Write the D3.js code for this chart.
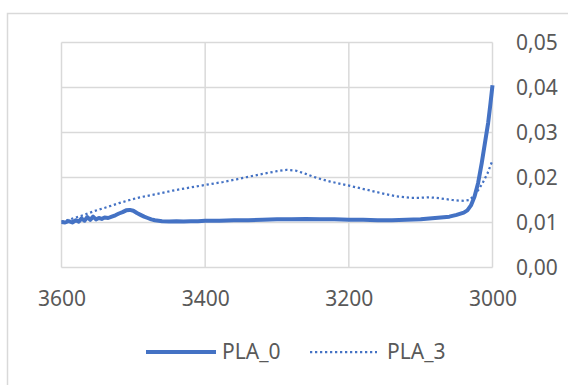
<!DOCTYPE html>
<html>
<head>
<meta charset="utf-8">
<script src="https://cdn.jsdelivr.net/npm/d3@7"></script>
<style>
  html, body { margin: 0; padding: 0; background: #fff; }
  svg { display: block; }
  text { font-family: "Noto Sans", "Open Sans", sans-serif; fill: #595959; }
</style>
</head>
<body>
<script>
// ---- data ----
const seriesNames = ["PLA_0", "PLA_3"];
const xTicks = [3600, 3400, 3200, 3000];
const yTicks = [0, 0.01, 0.02, 0.03, 0.04, 0.05];

const pla0Wavenumber = [3600,3595,3590,3585,3580,3576,3572,3568,3564,3560,3556,3552,3548,3544,3540,3535,3530,3525,3520,3515,3510,3505,3500,3495,3490,3485,3480,3475,3470,3460,3450,3440,3430,3420,3410,3400,3380,3360,3340,3320,3300,3280,3260,3240,3220,3200,3180,3160,3140,3120,3100,3080,3060,3050,3040,3035,3030,3025,3020,3015,3010,3006,3003,3000];
const pla0Value = [0.0101,0.0100,0.0103,0.0100,0.0105,0.0102,0.0109,0.0104,0.0112,0.0106,0.0113,0.0107,0.0110,0.0108,0.0111,0.0110,0.0113,0.0116,0.0120,0.0123,0.0127,0.0128,0.0126,0.0121,0.0117,0.0113,0.0110,0.0107,0.0105,0.0103,0.0102,0.0103,0.0102,0.0103,0.0103,0.0104,0.0104,0.0105,0.0105,0.0106,0.0107,0.0107,0.0108,0.0107,0.0107,0.0106,0.0106,0.0105,0.0105,0.0106,0.0107,0.0110,0.0113,0.0117,0.0122,0.0127,0.0138,0.0158,0.0188,0.0232,0.0282,0.0322,0.0362,0.0405];

const pla3Wavenumber = [3600,3590,3580,3570,3555,3537,3520,3505,3491,3468,3445,3420,3398,3375,3356,3342,3320,3300,3287,3273,3260,3250,3238,3226,3203,3181,3157,3134,3115,3100,3088,3074,3056,3040,3032,3023,3014,3007,3001];
const pla3Value = [0.0102,0.0106,0.0111,0.0116,0.0125,0.0134,0.0143,0.0150,0.0156,0.0163,0.0171,0.0178,0.0184,0.0190,0.0196,0.0201,0.0208,0.0214,0.0217,0.0215,0.0208,0.0202,0.0196,0.0191,0.0183,0.0175,0.0166,0.0158,0.0155,0.0155,0.0156,0.0154,0.0150,0.0148,0.0150,0.0164,0.0187,0.0209,0.0234];

// ---- layout ----
const W = 568, H = 385;
const plot = { left: 61.5, right: 492.5, top: 42.5, bottom: 267.5 };
const color = "#4472C4";
const gridColor = "#D9D9D9";

const svg = d3.select("body").append("svg").attr("width", W).attr("height", H);

// chart border (only top/left visible)
svg.append("rect")
  .attr("x", 7.5).attr("y", 13.5).attr("width", 700).attr("height", 500)
  .attr("fill", "none").attr("stroke", gridColor).attr("stroke-width", 1.5);

const x = d3.scaleLinear().domain([3600, 3000]).range([plot.left, plot.right]);
const y = d3.scaleLinear().domain([0, 0.05]).range([plot.bottom, plot.top]);

// gridlines
const g = svg.append("g");
g.selectAll(".hg").data(yTicks).enter().append("line")
  .attr("x1", plot.left).attr("x2", plot.right)
  .attr("y1", d => y(d)).attr("y2", d => y(d))
  .attr("stroke", gridColor).attr("stroke-width", 1.5);
g.selectAll(".vg").data(xTicks).enter().append("line")
  .attr("x1", d => x(d)).attr("x2", d => x(d))
  .attr("y1", plot.top).attr("y2", plot.bottom)
  .attr("stroke", gridColor).attr("stroke-width", 1.5);

// axes via d3 axis generators
const fmt = d => d3.format(".2f")(d).replace(".", ",");
const yAxis = svg.append("g")
  .attr("transform", `translate(${plot.right},0)`)
  .call(d3.axisRight(y).tickValues(yTicks).tickFormat(fmt).tickSize(0).tickPadding(23.5));
yAxis.select(".domain").remove();
yAxis.selectAll("text").attr("font-size", 21).attr("fill", "#595959")
  .style("font-family", '"Noto Sans", sans-serif').attr("dy", "0.35em");

const xAxis = svg.append("g")
  .attr("transform", `translate(0,${plot.bottom})`)
  .call(d3.axisBottom(x).tickValues(xTicks).tickFormat(d3.format("d")).tickSize(0).tickPadding(31.5));
xAxis.select(".domain").remove();
xAxis.selectAll("text").attr("font-size", 21).attr("fill", "#595959")
  .style("font-family", '"Noto Sans", sans-serif').attr("dy", "0.35em");

// lines
const line = d3.line().x(d => x(d[0])).y(d => y(d[1])).curve(d3.curveLinear);
const d0 = pla0Wavenumber.map((w, i) => [w, pla0Value[i]]);
const d3s = pla3Wavenumber.map((w, i) => [w, pla3Value[i]]);

svg.append("path").datum(d3s).attr("d", line)
  .attr("fill", "none").attr("stroke", color).attr("stroke-width", 2.25)
  .attr("stroke-dasharray", "2.25 2.75");
svg.append("path").datum(d0).attr("d", line)
  .attr("fill", "none").attr("stroke", color).attr("stroke-width", 4)
  .attr("stroke-linejoin", "round");

// legend
const ly = 352;
const leg = svg.append("g");
leg.append("line").attr("x1", 146).attr("x2", 216).attr("y1", ly).attr("y2", ly)
  .attr("stroke", color).attr("stroke-width", 4);
leg.append("text").attr("x", 222).attr("y", ly).attr("dy", "0.35em")
  .attr("font-size", 21).text(seriesNames[0]);
leg.append("line").attr("x1", 310).attr("x2", 377).attr("y1", ly).attr("y2", ly)
  .attr("stroke", color).attr("stroke-width", 2.25).attr("stroke-dasharray", "2.25 2.75");
leg.append("text").attr("x", 387).attr("y", ly).attr("dy", "0.35em")
  .attr("font-size", 21).text(seriesNames[1]);
</script>
</body>
</html>
